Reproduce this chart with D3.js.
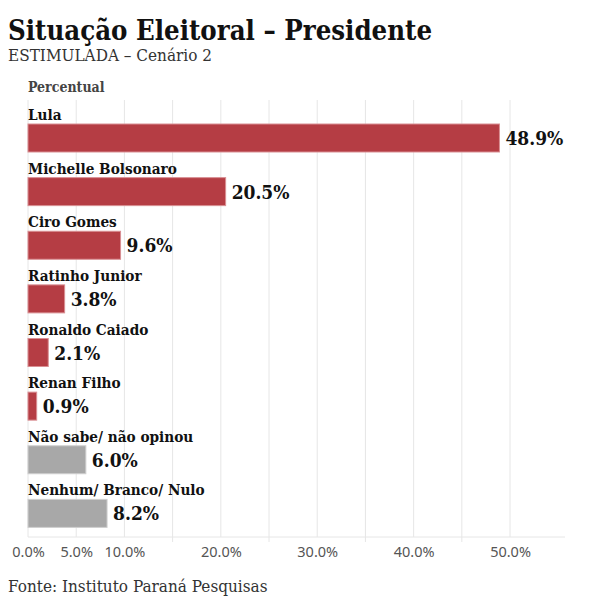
<!DOCTYPE html>
<html lang="pt">
  <head>
    <meta charset="UTF-8" />
    <title>Situação Eleitoral – Presidente</title>
    <script src="https://d3js.org/d3.v7.min.js"></script>
    <style>
      body {
        margin: 0;
        background: #fff;
      }
      .serif {
        font-family: "DejaVu Serif", serif;
        font-stretch: condensed;
      }
      .tick-label {
        font-family: "Noto Sans", sans-serif;
        font-size: 14.5px;
        fill: #555;
      }
    </style>
  </head>
  <body>
    <svg id="chart" width="594" height="613"></svg>

    <script>
      // Data
      var categories = [
        "Lula",
        "Michelle Bolsonaro",
        "Ciro Gomes",
        "Ratinho Junior",
        "Ronaldo Caiado",
        "Renan Filho",
        "Não sabe/ não opinou",
        "Nenhum/ Branco/ Nulo",
      ];
      var values = [48.9, 20.5, 9.6, 3.8, 2.1, 0.9, 6.0, 8.2];
      var isCandidate = [true, true, true, true, true, true, false, false];
      var gridTicks = [0, 5, 10, 15, 20, 25, 30, 35, 40, 45, 50];
      var labelledTicks = [0, 5, 10, 20, 30, 40, 50];

      var data = categories.map(function (c, i) {
        return { name: c, value: values[i], candidate: isCandidate[i] };
      });

      var svg = d3.select("#chart");

      var x = d3.scaleLinear().domain([0, 55.7]).range([28, 565]);

      var y = d3
        .scaleBand()
        .domain(categories)
        .range([108, 537])
        .paddingInner(0);

      var barH = 28;

      // Title
      svg
        .append("text")
        .attr("class", "serif")
        .attr("x", 8)
        .attr("y", 40)
        .style("font-size", "27.3px")
        .style("font-weight", "bold")
        .style("fill", "#111")
        .text("Situação Eleitoral – Presidente");

      svg
        .append("text")
        .attr("class", "serif")
        .attr("x", 8)
        .attr("y", 61)
        .style("font-size", "17px")
        .style("fill", "#333")
        .text("ESTIMULADA – Cenário 2");

      svg
        .append("text")
        .attr("class", "serif")
        .attr("x", 28)
        .attr("y", 92)
        .style("font-size", "14px")
        .style("font-weight", "bold")
        .style("fill", "#444")
        .text("Percentual");

      // Gridlines
      svg
        .append("g")
        .selectAll("line")
        .data(gridTicks)
        .enter()
        .append("line")
        .attr("x1", function (d) {
          return x(d);
        })
        .attr("x2", function (d) {
          return x(d);
        })
        .attr("y1", 100)
        .attr("y2", function (d) {
          return labelledTicks.indexOf(d) < 0 ? 542 : 537;
        })
        .attr("stroke", "#e6e6e6")
        .attr("stroke-width", 1);

      // Axis line
      svg
        .append("line")
        .attr("x1", x(0))
        .attr("x2", 565)
        .attr("y1", 537)
        .attr("y2", 537)
        .attr("stroke", "#e6e6e6");

      // Axis labels
      var axis = d3
        .axisBottom(x)
        .tickValues(labelledTicks)
        .tickSize(0)
        .tickPadding(10)
        .tickFormat(function (d) {
          return d.toFixed(1) + "%";
        });

      var axisG = svg
        .append("g")
        .attr("transform", "translate(0,537)")
        .call(axis);
      axisG.select(".domain").remove();
      axisG.selectAll("text").attr("class", "tick-label").attr("fill", null);

      // Bars
      var rows = svg
        .append("g")
        .selectAll("g")
        .data(data)
        .enter()
        .append("g")
        .attr("transform", function (d) {
          return "translate(0," + y(d.name) + ")";
        });

      rows
        .append("text")
        .attr("class", "serif")
        .attr("x", 28)
        .attr("y", 12)
        .style("font-size", "15.2px")
        .style("font-weight", "bold")
        .style("fill", "#111")
        .text(function (d) {
          return d.name;
        });

      rows
        .append("rect")
        .attr("x", x(0))
        .attr("y", 16)
        .attr("width", function (d) {
          return x(d.value) - x(0);
        })
        .attr("height", barH)
        .attr("fill", function (d) {
          return d.candidate ? "#b53d44" : "#a8a8a8";
        })
        .attr("stroke", function (d) {
          return d.candidate ? "#d98f93" : "#cfcfcf";
        })
        .attr("stroke-width", 1);

      rows
        .append("text")
        .attr("class", "serif")
        .attr("x", function (d) {
          return x(d.value) + 6;
        })
        .attr("y", 16 + barH / 2 + 7)
        .style("font-size", "19px")
        .style("font-weight", "bold")
        .style("fill", "#111")
        .text(function (d) {
          return d.value.toFixed(1) + "%";
        });

      // Source
      svg
        .append("text")
        .attr("class", "serif")
        .attr("x", 8)
        .attr("y", 592)
        .style("font-size", "17px")
        .style("fill", "#333")
        .text("Fonte: Instituto Paraná Pesquisas");
    </script>
  </body>
</html>
